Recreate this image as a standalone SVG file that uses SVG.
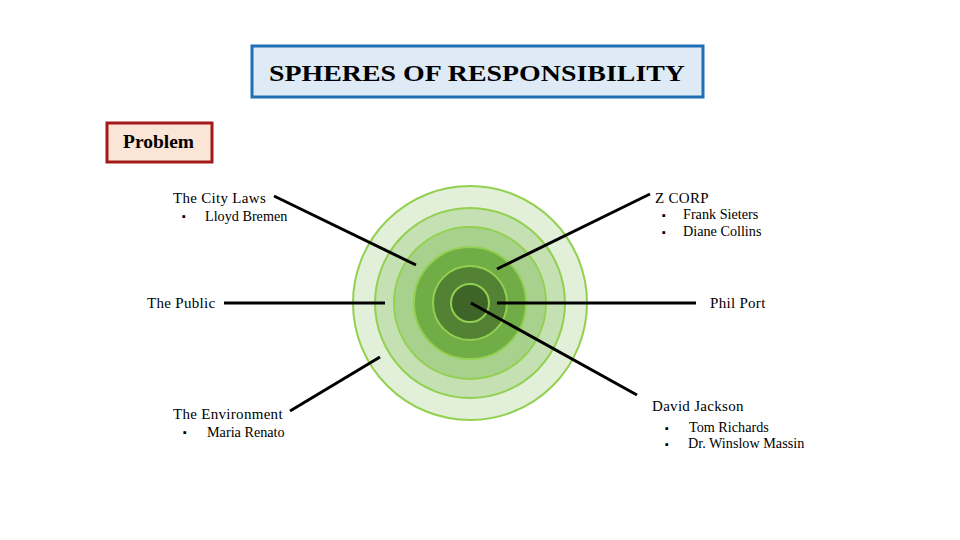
<svg xmlns="http://www.w3.org/2000/svg" width="960" height="540" viewBox="0 0 960 540">
<style>
.lbl{font-family:"Liberation Serif","Times New Roman",serif;font-size:15px;fill:#000;letter-spacing:0.3px}
.sub{font-family:"Liberation Serif","Times New Roman",serif;font-size:14.2px;fill:#000}
.bul{font-family:"Liberation Serif",serif;font-size:11px;fill:#000}
.con{stroke:#000;stroke-width:3;fill:none}
.ring{stroke:#92d050;stroke-width:2}
</style>
<rect width="960" height="540" fill="#fff"/>
<g id="title">
<rect x="252" y="46" width="451" height="51" fill="#deebf7" stroke="#1f6fb4" stroke-width="3"/>
<text x="477" y="81" text-anchor="middle" font-family="Liberation Serif,serif" font-weight="bold" font-size="24" textLength="416" lengthAdjust="spacingAndGlyphs">SPHERES OF RESPONSIBILITY</text>
</g>
<g id="problem">
<rect x="107" y="123" width="105" height="39" fill="#fbe5d6" stroke="#a31a1a" stroke-width="3"/>
<text x="158.5" y="148" text-anchor="middle" font-family="Liberation Serif,serif" font-weight="bold" font-size="18" textLength="71" lengthAdjust="spacingAndGlyphs">Problem</text>
</g>
<g id="spheres">
<circle class="ring" cx="470" cy="303" r="117" fill="#e2efd9"/>
<circle class="ring" cx="470" cy="303" r="95" fill="#c5e0b3"/>
<circle class="ring" cx="470" cy="303" r="76" fill="#a9d18e"/>
<circle class="ring" cx="470" cy="303" r="56" fill="#70ad47"/>
<circle class="ring" cx="470" cy="303" r="37" fill="#548235"/>
<circle class="ring" cx="470" cy="303" r="19" fill="#3f6428"/>
</g>
<g id="connectors">
<line class="con" x1="274" y1="196" x2="416" y2="265"/>
<line class="con" x1="650" y1="194" x2="497" y2="269"/>
<line class="con" x1="224" y1="303" x2="385" y2="303"/>
<line class="con" x1="497" y1="303" x2="696" y2="303"/>
<line class="con" x1="290" y1="411" x2="380" y2="357"/>
<line class="con" x1="471" y1="303" x2="637" y2="395"/>
</g>
<g id="city-laws">
<text class="lbl" x="173" y="203">The City Laws</text>
<text class="bul" x="182" y="220">▪</text>
<text class="sub" x="205" y="221">Lloyd Bremen</text>
</g>
<g id="z-corp">
<text class="lbl" x="655" y="203">Z CORP</text>
<text class="bul" x="662" y="219">▪</text>
<text class="sub" x="683" y="219">Frank Sieters</text>
<text class="bul" x="662" y="236">▪</text>
<text class="sub" x="683" y="236">Diane Collins</text>
</g>
<g id="the-public">
<text class="lbl" x="147" y="308">The Public</text>
</g>
<g id="phil-port">
<text class="lbl" x="710" y="308">Phil Port</text>
</g>
<g id="environment">
<text class="lbl" x="173" y="419">The Environment</text>
<text class="bul" x="183" y="436">▪</text>
<text class="sub" x="207" y="437">Maria Renato</text>
</g>
<g id="david-jackson">
<text class="lbl" x="652" y="411">David Jackson</text>
<text class="bul" x="665" y="432">▪</text>
<text class="sub" x="689" y="432">Tom Richards</text>
<text class="bul" x="665" y="448">▪</text>
<text class="sub" x="688" y="448">Dr. Winslow Massin</text>
</g>
</svg>
